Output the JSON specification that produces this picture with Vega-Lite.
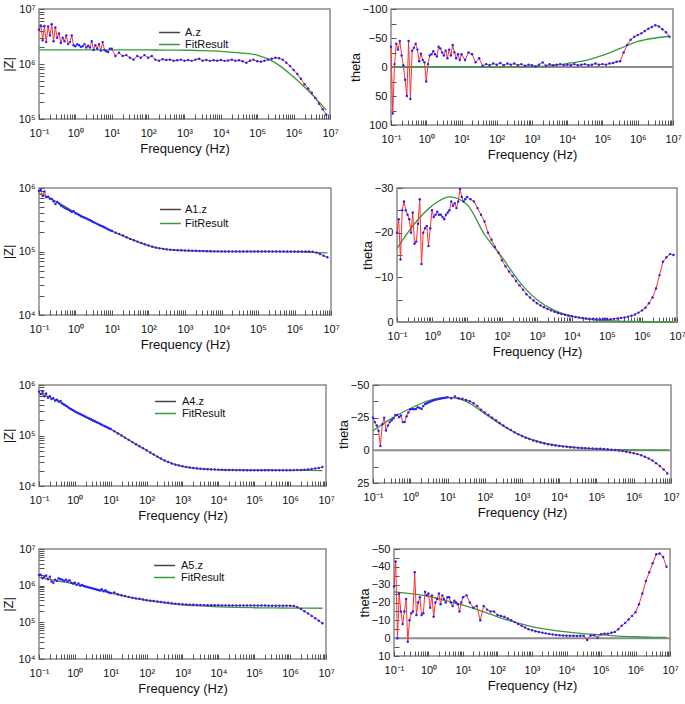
{
"$schema": "https://vega.github.io/schema/vega-lite/v6.json",
"padding": {"left": 1, "top": 2, "right": 0, "bottom": 0},
"background": "white",
"config": {
 "font": "Liberation Sans",
 "view": {"stroke": "#8a8a8a", "strokeWidth": 1.5},
 "axis": {"grid": false, "domain": false, "offset": -5, "tickSize": 5, "tickColor": "#555555", "tickWidth": 1, "labelFont": "Liberation Sans", "labelFontSize": 11, "labelColor": "#111111", "titleFont": "Liberation Sans", "titleFontSize": 13, "titleFontWeight": "normal", "titleColor": "#111111", "labelOverlap": false, "labelFlush": false, "labelBound": false},
 "axisX": {"labelPadding": 8, "titlePadding": 4},
 "axisY": {"labelPadding": 4, "titlePadding": 3},
 "legend": {"labelFont": "Liberation Sans", "labelFontSize": 11, "labelColor": "#111111"}
},
"datasets": {
"m": [
{"f":0.1,"z1":4.2e6,"t1":-35,"z2":9.0e5,"t2":-20,"z3":7.4e5,"t3":-25,"z4":1.95e6,"t4":-29},
{"f":0.112,"z1":5.0e6,"t1":80,"z2":9.3e5,"t2":-23,"z3":6.6e5,"t3":-21.6,"z4":2.0e6,"t4":-43},
{"f":0.126,"z1":2.7e6,"t1":-5,"z2":7.5e5,"t2":-14,"z3":7.4e5,"t3":-19,"z4":1.6e6,"t4":0},
{"f":0.141,"z1":4.9e6,"t1":-40,"z2":8.8e5,"t2":-25,"z3":6.0e5,"t3":-15,"z4":1.75e6,"t4":-25},
{"f":0.158,"z1":2.5e6,"t1":-30,"z2":7.2e5,"t2":-27,"z3":6.8e5,"t3":-3.3,"z4":1.9e6,"t4":-15},
{"f":0.178,"z1":4.8e6,"t1":-45,"z2":7.3e5,"t2":-25,"z3":5.6e5,"t3":-20,"z4":1.5e6,"t4":-8},
{"f":0.2,"z1":3.3e6,"t1":-20,"z2":6.8e5,"t2":-24,"z3":6.0e5,"t3":-24.9,"z4":1.75e6,"t4":-15},
{"f":0.224,"z1":5.3e6,"t1":-3,"z2":6.7e5,"t2":-23,"z3":5.3e5,"t3":-15.2,"z4":1.3e6,"t4":-22},
{"f":0.251,"z1":2.6e6,"t1":22,"z2":6.2e5,"t2":-20,"z3":5.5e5,"t3":-19,"z4":1.2e6,"t4":2},
{"f":0.282,"z1":4.6e6,"t1":50,"z2":5.6e5,"t2":-24.5,"z3":4.9e5,"t3":-21.6,"z4":1.45e6,"t4":-10},
{"f":0.316,"z1":3.0e6,"t1":-45,"z2":6.0e5,"t2":-17.5,"z3":5.1e5,"t3":-23,"z4":1.35e6,"t4":-14},
{"f":0.355,"z1":3.6e6,"t1":55,"z2":5.7e5,"t2":-18,"z3":4.7e5,"t3":-24.6,"z4":1.6e6,"t4":-15},
{"f":0.398,"z1":2.4e6,"t1":-28,"z2":5.3e5,"t2":-22,"z3":4.8e5,"t3":-27,"z4":1.5e6,"t4":-37},
{"f":0.447,"z1":3.0e6,"t1":-33,"z2":5.1e5,"t2":-27.5,"z3":4.3e5,"t3":-27,"z4":1.45e6,"t4":-13},
{"f":0.501,"z1":2.6e6,"t1":-40,"z2":4.9e5,"t2":-13,"z3":4.1e5,"t3":-25.4,"z4":1.35e6,"t4":-20},
{"f":0.562,"z1":3.3e6,"t1":-30,"z2":4.7e5,"t2":-20,"z3":3.9e5,"t3":-26.6,"z4":1.45e6,"t4":-23},
{"f":0.631,"z1":2.3e6,"t1":-10,"z2":4.6e5,"t2":-21,"z3":3.7e5,"t3":-21.6,"z4":1.3e6,"t4":-13},
{"f":0.708,"z1":2.5e6,"t1":-23,"z2":4.4e5,"t2":-21.5,"z3":3.45e5,"t3":-21.6,"z4":1.4e6,"t4":-14},
{"f":0.794,"z1":3.3e6,"t1":-12,"z2":4.2e5,"t2":-17,"z3":3.3e5,"t3":-26,"z4":1.2e6,"t4":-26},
{"f":0.891,"z1":2.2e6,"t1":-8,"z2":4.3e5,"t2":-21,"z3":3.15e5,"t3":-29,"z4":1.15e6,"t4":-24},
{"f":1,"z1":2.1e6,"t1":25,"z2":4.0e5,"t2":-25,"z3":3.0e5,"t3":-31.5,"z4":1.2e6,"t4":-25},
{"f":1.12,"z1":2.3e6,"t1":-5,"z2":3.9e5,"t2":-23.5,"z3":2.88e5,"t3":-31.7,"z4":1.05e6,"t4":-17},
{"f":1.26,"z1":2.2e6,"t1":-20,"z2":3.75e5,"t2":-24,"z3":2.77e5,"t3":-31.5,"z4":1.15e6,"t4":-24},
{"f":1.41,"z1":2.05e6,"t1":-22,"z2":3.6e5,"t2":-24.7,"z3":2.66e5,"t3":-31.7,"z4":1.0e6,"t4":-12},
{"f":1.58,"z1":2.1e6,"t1":-27,"z2":3.5e5,"t2":-24,"z3":2.55e5,"t3":-33,"z4":1.05e6,"t4":-20},
{"f":1.78,"z1":2.3e6,"t1":-22,"z2":3.4e5,"t2":-24,"z3":2.45e5,"t3":-32.5,"z4":9.8e5,"t4":-22},
{"f":2,"z1":2.0e6,"t1":-18,"z2":3.3e5,"t2":-23.5,"z3":2.36e5,"t3":-31.7,"z4":9.5e5,"t4":-25},
{"f":2.24,"z1":2.15e6,"t1":-35,"z2":3.2e5,"t2":-23,"z3":2.26e5,"t3":-34,"z4":9.2e5,"t4":-19},
{"f":2.51,"z1":2.0e6,"t1":-32,"z2":3.1e5,"t2":-24,"z3":2.17e5,"t3":-35.5,"z4":8.9e5,"t4":-24},
{"f":2.82,"z1":2.6e6,"t1":-25,"z2":3.0e5,"t2":-24.5,"z3":2.09e5,"t3":-36,"z4":8.6e5,"t4":-22},
{"f":3.16,"z1":1.8e6,"t1":-20,"z2":2.9e5,"t2":-25,"z3":2.0e5,"t3":-36.8,"z4":8.4e5,"t4":-20},
{"f":3.55,"z1":2.2e6,"t1":-28,"z2":2.8e5,"t2":-27,"z3":1.93e5,"t3":-37.3,"z4":8.1e5,"t4":-23},
{"f":3.98,"z1":1.9e6,"t1":-15,"z2":2.7e5,"t2":-26,"z3":1.85e5,"t3":-38,"z4":7.9e5,"t4":-23},
{"f":4.47,"z1":2.3e6,"t1":-30,"z2":2.62e5,"t2":-26.6,"z3":1.78e5,"t3":-38.5,"z4":7.6e5,"t4":-20},
{"f":5.01,"z1":1.75e6,"t1":-20,"z2":2.55e5,"t2":-25.5,"z3":1.71e5,"t3":-38.8,"z4":7.4e5,"t4":-18},
{"f":5.62,"z1":2.5e6,"t1":-38,"z2":2.47e5,"t2":-27,"z3":1.64e5,"t3":-39.2,"z4":8.0e5,"t4":-21},
{"f":6.31,"z1":1.8e6,"t1":-25,"z2":2.38e5,"t2":-29.8,"z3":1.57e5,"t3":-39.5,"z4":7.0e5,"t4":-20},
{"f":7.08,"z1":1.7e6,"t1":-15,"z2":2.3e5,"t2":-28,"z3":1.51e5,"t3":-39.8,"z4":7.5e5,"t4":-19},
{"f":7.94,"z1":1.65e6,"t1":-22,"z2":2.23e5,"t2":-27,"z3":1.45e5,"t3":-40,"z4":6.8e5,"t4":-15},
{"f":8.91,"z1":1.9e6,"t1":-12,"z2":2.16e5,"t2":-27.5,"z3":1.39e5,"t3":-40.3,"z4":6.5e5,"t4":-20},
{"f":10,"z1":1.9e6,"t1":-22,"z2":2.1e5,"t2":-28,"z3":1.34e5,"t3":-40.6,"z4":6.3e5,"t4":-23},
{"f":12.6,"z1":1.4e6,"t1":-12,"z2":1.98e5,"t2":-27.5,"z3":1.22e5,"t3":-39.8,"z4":6.5e5,"t4":-24},
{"f":15.8,"z1":1.6e6,"t1":-25,"z2":1.88e5,"t2":-27,"z3":1.1e5,"t3":-41.2,"z4":5.8e5,"t4":-20},
{"f":20,"z1":1.4e6,"t1":-22,"z2":1.78e5,"t2":-25.5,"z3":1.0e5,"t3":-39.8,"z4":5.5e5,"t4":-17},
{"f":25.1,"z1":1.45e6,"t1":-8,"z2":1.68e5,"t2":-24,"z3":9.0e4,"t3":-39.5,"z4":5.2e5,"t4":-18},
{"f":31.6,"z1":1.3e6,"t1":-15,"z2":1.58e5,"t2":-22.5,"z3":8.2e4,"t3":-38.5,"z4":4.9e5,"t4":-10},
{"f":39.8,"z1":1.2e6,"t1":-2,"z2":1.5e5,"t2":-20,"z3":7.4e4,"t3":-37.5,"z4":4.7e5,"t4":-18},
{"f":50.1,"z1":1.4e6,"t1":-5,"z2":1.43e5,"t2":-18.4,"z3":6.7e4,"t3":-36,"z4":4.5e5,"t4":-16},
{"f":63.1,"z1":1.3e6,"t1":-3,"z2":1.36e5,"t2":-16.8,"z3":6.1e4,"t3":-34,"z4":4.4e5,"t4":-15},
{"f":79.4,"z1":1.45e6,"t1":-6,"z2":1.3e5,"t2":-15.5,"z3":5.6e4,"t3":-31,"z4":4.2e5,"t4":-15},
{"f":100,"z1":1.3e6,"t1":-4,"z2":1.24e5,"t2":-13.8,"z3":5.1e4,"t3":-29,"z4":4.0e5,"t4":-13},
{"f":126,"z1":1.4e6,"t1":-7,"z2":1.19e5,"t2":-12.5,"z3":4.6e4,"t3":-27,"z4":3.9e5,"t4":-12.5},
{"f":158,"z1":1.2e6,"t1":-3,"z2":1.15e5,"t2":-11.3,"z3":4.2e4,"t3":-25,"z4":3.8e5,"t4":-12},
{"f":200,"z1":1.15e6,"t1":-6,"z2":1.12e5,"t2":-10.3,"z3":3.8e4,"t3":-23,"z4":3.7e5,"t4":-11},
{"f":251,"z1":1.22e6,"t1":-4,"z2":1.1e5,"t2":-9.2,"z3":3.5e4,"t3":-21,"z4":3.6e5,"t4":-10},
{"f":316,"z1":1.18e6,"t1":-6,"z2":1.08e5,"t2":-8.2,"z3":3.2e4,"t3":-19,"z4":3.5e5,"t4":-9},
{"f":398,"z1":1.2e6,"t1":-3,"z2":1.07e5,"t2":-7.2,"z3":3.0e4,"t3":-17.2,"z4":3.4e5,"t4":-8},
{"f":501,"z1":1.15e6,"t1":-5,"z2":1.06e5,"t2":-6.2,"z3":2.8e4,"t3":-15.5,"z4":3.3e5,"t4":-7},
{"f":631,"z1":1.17e6,"t1":-2,"z2":1.05e5,"t2":-5.5,"z3":2.65e4,"t3":-13.8,"z4":3.2e5,"t4":-6},
{"f":794,"z1":1.2e6,"t1":-4,"z2":1.045e5,"t2":-4.8,"z3":2.55e4,"t3":-12.3,"z4":3.15e5,"t4":-5},
{"f":1000,"z1":1.15e6,"t1":-3,"z2":1.04e5,"t2":-4.2,"z3":2.45e4,"t3":-10.9,"z4":3.1e5,"t4":-4.4},
{"f":1260,"z1":1.18e6,"t1":-1,"z2":1.035e5,"t2":-3.7,"z3":2.38e4,"t3":-9.7,"z4":3.07e5,"t4":-3.9},
{"f":1580,"z1":1.14e6,"t1":-4,"z2":1.03e5,"t2":-3.3,"z3":2.32e4,"t3":-8.6,"z4":3.04e5,"t4":-3.5},
{"f":2000,"z1":1.2e6,"t1":-8,"z2":1.025e5,"t2":-2.9,"z3":2.27e4,"t3":-7.6,"z4":3.0e5,"t4":-3.1},
{"f":2510,"z1":1.25e6,"t1":-2,"z2":1.02e5,"t2":-2.6,"z3":2.23e4,"t3":-6.7,"z4":2.98e5,"t4":-2.7},
{"f":3160,"z1":1.15e6,"t1":-5,"z2":1.015e5,"t2":-2.3,"z3":2.2e4,"t3":-6.0,"z4":2.96e5,"t4":-2.4},
{"f":3980,"z1":1.18e6,"t1":-3,"z2":1.01e5,"t2":-2.0,"z3":2.17e4,"t3":-5.3,"z4":2.95e5,"t4":-2.1},
{"f":5010,"z1":1.14e6,"t1":-4,"z2":1.01e5,"t2":-1.8,"z3":2.15e4,"t3":-4.7,"z4":2.94e5,"t4":-1.8},
{"f":6310,"z1":1.17e6,"t1":-5,"z2":1.005e5,"t2":-1.6,"z3":2.13e4,"t3":-4.1,"z4":2.93e5,"t4":-1.6},
{"f":7940,"z1":1.15e6,"t1":-3,"z2":1.005e5,"t2":-1.4,"z3":2.12e4,"t3":-3.7,"z4":2.92e5,"t4":-1.5},
{"f":1e4,"z1":1.18e6,"t1":-4,"z2":1.0e5,"t2":-1.3,"z3":2.1e4,"t3":-3.3,"z4":2.91e5,"t4":-1.4},
{"f":12600,"z1":1.14e6,"t1":-3,"z2":1.0e5,"t2":-1.1,"z3":2.09e4,"t3":-3.0,"z4":2.9e5,"t4":-1.3},
{"f":15800,"z1":1.16e6,"t1":-5,"z2":1.0e5,"t2":-1.0,"z3":2.08e4,"t3":-2.7,"z4":2.9e5,"t4":-1.3},
{"f":20000,"z1":1.2e6,"t1":-3,"z2":1.0e5,"t2":-0.9,"z3":2.07e4,"t3":-2.4,"z4":2.89e5,"t4":-1.2},
{"f":25100,"z1":1.15e6,"t1":-4,"z2":1.0e5,"t2":-0.8,"z3":2.07e4,"t3":-2.2,"z4":2.89e5,"t4":-1.3},
{"f":31600,"z1":1.17e6,"t1":-5,"z2":1.0e5,"t2":-0.7,"z3":2.06e4,"t3":-2.0,"z4":2.88e5,"t4":-1.4},
{"f":39800,"z1":1.12e6,"t1":-3,"z2":1.0e5,"t2":-0.7,"z3":2.06e4,"t3":-1.8,"z4":2.88e5,"t4":1},
{"f":50100,"z1":1.05e6,"t1":-4,"z2":1.0e5,"t2":-0.6,"z3":2.05e4,"t3":-1.6,"z4":2.88e5,"t4":-1.5},
{"f":63100,"z1":1.15e6,"t1":-6,"z2":1.0e5,"t2":-0.6,"z3":2.05e4,"t3":-1.5,"z4":2.87e5,"t4":-1.6},
{"f":79400,"z1":1.2e6,"t1":-4,"z2":1.0e5,"t2":-0.6,"z3":2.05e4,"t3":-1.4,"z4":2.87e5,"t4":-0.3},
{"f":1e5,"z1":1.12e6,"t1":-5,"z2":1.0e5,"t2":-0.6,"z3":2.05e4,"t3":-1.3,"z4":2.87e5,"t4":-2.2},
{"f":126000,"z1":1.1e6,"t1":-4,"z2":1.0e5,"t2":-0.6,"z3":2.05e4,"t3":-1.2,"z4":2.86e5,"t4":-2.5},
{"f":158000,"z1":1.15e6,"t1":-6,"z2":1.0e5,"t2":-0.7,"z3":2.05e4,"t3":-1.0,"z4":2.86e5,"t4":-2.5},
{"f":200000,"z1":1.2e6,"t1":-7,"z2":1.0e5,"t2":-0.8,"z3":2.05e4,"t3":-0.8,"z4":2.86e5,"t4":-3},
{"f":251000,"z1":1.25e6,"t1":-9,"z2":1.0e5,"t2":-0.9,"z3":2.05e4,"t3":-0.5,"z4":2.85e5,"t4":-3.5},
{"f":316000,"z1":1.3e6,"t1":-10,"z2":1.0e5,"t2":-1.0,"z3":2.05e4,"t3":-0.2,"z4":2.85e5,"t4":-5},
{"f":398000,"z1":1.27e6,"t1":-25,"z2":1.0e5,"t2":-1.2,"z3":2.05e4,"t3":0.2,"z4":2.85e5,"t4":-7},
{"f":501000,"z1":1.2e6,"t1":-38,"z2":1.0e5,"t2":-1.4,"z3":2.05e4,"t3":0.6,"z4":2.85e5,"t4":-8.5},
{"f":631000,"z1":1.05e6,"t1":-47,"z2":1.0e5,"t2":-1.7,"z3":2.05e4,"t3":1.1,"z4":2.85e5,"t4":-10.5},
{"f":794000,"z1":9.2e5,"t1":-52,"z2":1.0e5,"t2":-2.1,"z3":2.05e4,"t3":1.6,"z4":2.84e5,"t4":-12.5},
{"f":1e6,"z1":7.8e5,"t1":-55,"z2":1.0e5,"t2":-2.6,"z3":2.05e4,"t3":2.2,"z4":2.83e5,"t4":-14.5},
{"f":1.26e6,"z1":6.6e5,"t1":-58,"z2":1.0e5,"t2":-3.2,"z3":2.06e4,"t3":2.9,"z4":2.78e5,"t4":-19},
{"f":1.58e6,"z1":5.4e5,"t1":-62,"z2":1.0e5,"t2":-4.2,"z3":2.07e4,"t3":3.8,"z4":2.6e5,"t4":-25},
{"f":2e6,"z1":4.3e5,"t1":-66,"z2":1.0e5,"t2":-5.5,"z3":2.08e4,"t3":4.9,"z4":2.3e5,"t4":-32},
{"f":2.51e6,"z1":3.6e5,"t1":-69,"z2":1.0e5,"t2":-7.5,"z3":2.1e4,"t3":6.2,"z4":2.0e5,"t4":-37},
{"f":3.16e6,"z1":3.0e5,"t1":-72,"z2":9.9e4,"t2":-10.5,"z3":2.13e4,"t3":7.8,"z4":1.75e5,"t4":-42},
{"f":3.98e6,"z1":2.4e5,"t1":-70,"z2":9.6e4,"t2":-13.5,"z3":2.17e4,"t3":9.8,"z4":1.5e5,"t4":-47},
{"f":5.01e6,"z1":1.9e5,"t1":-65,"z2":9.1e4,"t2":-14.5,"z3":2.22e4,"t3":12,"z4":1.3e5,"t4":-47.5},
{"f":6.31e6,"z1":1.5e5,"t1":-60,"z2":8.6e4,"t2":-15.2,"z3":2.28e4,"t3":14.6,"z4":1.1e5,"t4":-45.5},
{"f":7.94e6,"z1":1.2e5,"t1":-52,"z2":8.1e4,"t2":-15,"z3":2.38e4,"t3":17.7,"z4":9.5e4,"t4":-40}
],
"fit": [
{"f":0.1,"z1":1.8e6,"t1":0,"z2":8.3e5,"t2":-16.5,"z3":6.8e5,"t3":-15,"z4":1.7e6,"t4":-26},
{"f":0.316,"z1":1.8e6,"t1":0,"z2":6.0e5,"t2":-22,"z3":4.9e5,"t3":-24.5,"z4":1.35e6,"t4":-25},
{"f":1,"z1":1.8e6,"t1":0,"z2":4.1e5,"t2":-26,"z3":3.0e5,"t3":-32,"z4":1.1e6,"t4":-23.5},
{"f":3.16,"z1":1.8e6,"t1":0,"z2":2.9e5,"t2":-28,"z3":1.95e5,"t3":-38,"z4":8.3e5,"t4":-21},
{"f":10,"z1":1.8e6,"t1":0,"z2":2.1e5,"t2":-26.3,"z3":1.34e5,"t3":-40.5,"z4":6.3e5,"t4":-18.5},
{"f":31.6,"z1":1.8e6,"t1":0,"z2":1.58e5,"t2":-19.6,"z3":8.2e4,"t3":-37.5,"z4":4.9e5,"t4":-15.5},
{"f":100,"z1":1.8e6,"t1":0,"z2":1.24e5,"t2":-14.5,"z3":5.1e4,"t3":-28,"z4":4.0e5,"t4":-12},
{"f":316,"z1":1.79e6,"t1":-0.2,"z2":1.08e5,"t2":-9,"z3":3.2e4,"t3":-18.5,"z4":3.4e5,"t4":-9},
{"f":1000,"z1":1.78e6,"t1":-0.5,"z2":1.03e5,"t2":-5,"z3":2.45e4,"t3":-11,"z4":3.0e5,"t4":-6.5},
{"f":3160,"z1":1.75e6,"t1":-2,"z2":1.01e5,"t2":-2.6,"z3":2.2e4,"t3":-6.3,"z4":2.8e5,"t4":-4.8},
{"f":1e4,"z1":1.7e6,"t1":-6,"z2":1.0e5,"t2":-1.3,"z3":2.1e4,"t3":-3.6,"z4":2.65e5,"t4":-3.5},
{"f":31600,"z1":1.6e6,"t1":-11,"z2":1.0e5,"t2":-0.6,"z3":2.06e4,"t3":-2,"z4":2.55e5,"t4":-2.5},
{"f":1e5,"z1":1.45e6,"t1":-20,"z2":1.0e5,"t2":-0.3,"z3":2.05e4,"t3":-1,"z4":2.5e5,"t4":-1.8},
{"f":316000,"z1":1.05e6,"t1":-32,"z2":1.0e5,"t2":-0.15,"z3":2.05e4,"t3":-0.5,"z4":2.47e5,"t4":-1.2},
{"f":1e6,"z1":5.8e5,"t1":-44,"z2":9.9e4,"t2":-0.1,"z3":2.04e4,"t3":-0.25,"z4":2.45e5,"t4":-0.8},
{"f":3.16e6,"z1":2.8e5,"t1":-50,"z2":9.7e4,"t2":0,"z3":2.03e4,"t3":-0.1,"z4":2.43e5,"t4":-0.5},
{"f":7.94e6,"z1":1.45e5,"t1":-53,"z2":9.5e4,"t2":0,"z3":2.02e4,"t3":0,"z4":2.42e5,"t4":-0.4}
]
},
"resolve": {"scale": {"stroke": "independent"}, "legend": {"stroke": "independent"}},
"spacing": 19,
"vconcat": [
{"hconcat": [
 {"width": 291, "height": 110, "layer": [
  {"data": {"name": "fit"}, "mark": {"type": "line", "strokeWidth": 1.3, "interpolate": "monotone"},
   "encoding": {"x": {"field": "f", "type": "quantitative", "scale": {"type": "log", "domain": [0.1, 1e7], "nice": false},
     "axis": {"title": "Frequency (Hz)", "labelOverlap": false, "values": [0.1,0.2,0.3,0.4,0.5,0.6,0.7,0.8,0.9,1,2,3,4,5,6,7,8,9,10,20,30,40,50,60,70,80,90,100,200,300,400,500,600,700,800,900,1e3,2e3,3e3,4e3,5e3,6e3,7e3,8e3,9e3,1e4,2e4,3e4,4e4,5e4,6e4,7e4,8e4,9e4,1e5,2e5,3e5,4e5,5e5,6e5,7e5,8e5,9e5,1e6,2e6,3e6,4e6,5e6,6e6,7e6,8e6,9e6,1e7],
      "labelExpr": "abs(log(datum.value)/LN10-round(log(datum.value)/LN10))<0.001 ? ['10⁻¹','10⁰','10¹','10²','10³','10⁴','10⁵','10⁶','10⁷'][round(log(datum.value)/LN10)+1] : ''"}},
    "y": {"field": "z1", "type": "quantitative", "scale": {"type": "log", "domain": [1e5, 1e7], "nice": false},
     "axis": {"title": "|Z|", "labelOverlap": false, "values": [1e5,2e5,3e5,4e5,5e5,6e5,7e5,8e5,9e5,1e6,2e6,3e6,4e6,5e6,6e6,7e6,8e6,9e6,1e7],
      "labelExpr": "abs(log(datum.value)/LN10-round(log(datum.value)/LN10))<0.001 ? ['10⁰','10¹','10²','10³','10⁴','10⁵','10⁶','10⁷'][round(log(datum.value)/LN10)] : ''"}},
    "stroke": {"datum": "FitResult", "type": "nominal", "scale": {"domain": ["A.z", "FitResult"], "range": ["#444444", "#3a9a3a"]},
     "legend": {"orient": "none", "legendX": 124, "legendY": 17, "title": null, "symbolType": "M-1.9,0H1.9", "symbolStrokeWidth": 1.5, "symbolSize": 121, "labelOffset": 9, "rowPadding": -2}}}},
  {"data": {"name": "m"}, "mark": {"type": "line", "color": "#ff3030", "strokeWidth": 1},
   "encoding": {"x": {"field": "f", "type": "quantitative", "scale": {"type": "log"}}, "y": {"field": "z1", "type": "quantitative", "scale": {"type": "log"}}}},
  {"data": {"name": "m"}, "mark": {"type": "circle", "color": "#2323ff", "size": 6, "opacity": 1},
   "encoding": {"x": {"field": "f", "type": "quantitative", "scale": {"type": "log"}}, "y": {"field": "z1", "type": "quantitative", "scale": {"type": "log"}}}}
 ]},
 {"width": 282, "height": 116, "resolve": {"axis": {"y": "independent"}}, "layer": [
  {"data": {"values": [{}]}, "mark": {"type": "rule", "color": "#8c8c8c", "strokeWidth": 2}, "encoding": {"y": {"datum": 0, "type": "quantitative", "axis": {"orient": "left", "values": [-75,-25,25,75], "labels": false, "title": null}}}},
  {"data": {"name": "fit"}, "mark": {"type": "line", "strokeWidth": 1.3, "interpolate": "monotone", "color": "#3a9a3a"},
   "encoding": {"x": {"field": "f", "type": "quantitative", "scale": {"type": "log", "domain": [0.1, 1e7], "nice": false},
     "axis": {"title": "Frequency (Hz)", "labelOverlap": false, "values": [0.1,0.2,0.3,0.4,0.5,0.6,0.7,0.8,0.9,1,2,3,4,5,6,7,8,9,10,20,30,40,50,60,70,80,90,100,200,300,400,500,600,700,800,900,1e3,2e3,3e3,4e3,5e3,6e3,7e3,8e3,9e3,1e4,2e4,3e4,4e4,5e4,6e4,7e4,8e4,9e4,1e5,2e5,3e5,4e5,5e5,6e5,7e5,8e5,9e5,1e6,2e6,3e6,4e6,5e6,6e6,7e6,8e6,9e6,1e7],
      "labelExpr": "abs(log(datum.value)/LN10-round(log(datum.value)/LN10))<0.001 ? ['10⁻¹','10⁰','10¹','10²','10³','10⁴','10⁵','10⁶','10⁷'][round(log(datum.value)/LN10)+1] : ''"}},
    "y": {"field": "t1", "type": "quantitative", "scale": {"domain": [-100, 100], "reverse": true, "nice": false, "zero": false},
     "axis": {"orient": "left", "title": "theta", "titlePadding": 0, "labelOverlap": false, "values": [-100,-50,0,50,100]}}}},
  {"data": {"name": "m"}, "mark": {"type": "line", "color": "#ff3030", "strokeWidth": 1},
   "encoding": {"x": {"field": "f", "type": "quantitative", "scale": {"type": "log"}}, "y": {"field": "t1", "type": "quantitative", "axis": null}}},
  {"data": {"name": "m"}, "mark": {"type": "circle", "color": "#2323ff", "size": 6, "opacity": 1},
   "encoding": {"x": {"field": "f", "type": "quantitative", "scale": {"type": "log"}}, "y": {"field": "t1", "type": "quantitative", "axis": null}}}
 ]}
], "spacing": 9},
{"hconcat": [
 {"width": 292, "height": 127, "layer": [
  {"data": {"name": "fit"}, "mark": {"type": "line", "strokeWidth": 1.3, "interpolate": "monotone"},
   "encoding": {"x": {"field": "f", "type": "quantitative", "scale": {"type": "log", "domain": [0.1, 1e7], "nice": false},
     "axis": {"title": "Frequency (Hz)", "labelOverlap": false, "values": [0.1,0.2,0.3,0.4,0.5,0.6,0.7,0.8,0.9,1,2,3,4,5,6,7,8,9,10,20,30,40,50,60,70,80,90,100,200,300,400,500,600,700,800,900,1e3,2e3,3e3,4e3,5e3,6e3,7e3,8e3,9e3,1e4,2e4,3e4,4e4,5e4,6e4,7e4,8e4,9e4,1e5,2e5,3e5,4e5,5e5,6e5,7e5,8e5,9e5,1e6,2e6,3e6,4e6,5e6,6e6,7e6,8e6,9e6,1e7],
      "labelExpr": "abs(log(datum.value)/LN10-round(log(datum.value)/LN10))<0.001 ? ['10⁻¹','10⁰','10¹','10²','10³','10⁴','10⁵','10⁶','10⁷'][round(log(datum.value)/LN10)+1] : ''"}},
    "y": {"field": "z2", "type": "quantitative", "scale": {"type": "log", "domain": [1e4, 1e6], "nice": false},
     "axis": {"title": "|Z|", "labelOverlap": false, "values": [1e4,2e4,3e4,4e4,5e4,6e4,7e4,8e4,9e4,1e5,2e5,3e5,4e5,5e5,6e5,7e5,8e5,9e5,1e6],
      "labelExpr": "abs(log(datum.value)/LN10-round(log(datum.value)/LN10))<0.001 ? ['10⁰','10¹','10²','10³','10⁴','10⁵','10⁶','10⁷'][round(log(datum.value)/LN10)] : ''"}},
    "stroke": {"datum": "FitResult", "type": "nominal", "scale": {"domain": ["A1.z", "FitResult"], "range": ["#444444", "#3a9a3a"]},
     "legend": {"orient": "none", "legendX": 125, "legendY": 15, "title": null, "symbolType": "M-1.9,0H1.9", "symbolStrokeWidth": 1.5, "symbolSize": 121, "labelOffset": 8, "rowPadding": 2}}}},
  {"data": {"name": "m"}, "mark": {"type": "line", "color": "#ff3030", "strokeWidth": 1},
   "encoding": {"x": {"field": "f", "type": "quantitative", "scale": {"type": "log"}}, "y": {"field": "z2", "type": "quantitative", "scale": {"type": "log"}}}},
  {"data": {"name": "m"}, "mark": {"type": "circle", "color": "#2323ff", "size": 6, "opacity": 1},
   "encoding": {"x": {"field": "f", "type": "quantitative", "scale": {"type": "log"}}, "y": {"field": "z2", "type": "quantitative", "scale": {"type": "log"}}}}
 ]},
 {"width": 280, "height": 134, "resolve": {"axis": {"y": "independent"}}, "layer": [
  {"data": {"values": [{}]}, "mark": {"type": "rule", "color": "#8c8c8c", "strokeWidth": 2}, "encoding": {"y": {"datum": 0, "type": "quantitative", "axis": {"orient": "left", "values": [-25,-15,-5], "labels": false, "title": null}}}},
  {"data": {"name": "fit"}, "mark": {"type": "line", "strokeWidth": 1.3, "interpolate": "monotone", "color": "#3a9a3a"},
   "encoding": {"x": {"field": "f", "type": "quantitative", "scale": {"type": "log", "domain": [0.1, 1e7], "nice": false},
     "axis": {"title": "Frequency (Hz)", "labelOverlap": false, "values": [0.1,0.2,0.3,0.4,0.5,0.6,0.7,0.8,0.9,1,2,3,4,5,6,7,8,9,10,20,30,40,50,60,70,80,90,100,200,300,400,500,600,700,800,900,1e3,2e3,3e3,4e3,5e3,6e3,7e3,8e3,9e3,1e4,2e4,3e4,4e4,5e4,6e4,7e4,8e4,9e4,1e5,2e5,3e5,4e5,5e5,6e5,7e5,8e5,9e5,1e6,2e6,3e6,4e6,5e6,6e6,7e6,8e6,9e6,1e7],
      "labelExpr": "abs(log(datum.value)/LN10-round(log(datum.value)/LN10))<0.001 ? ['10⁻¹','10⁰','10¹','10²','10³','10⁴','10⁵','10⁶','10⁷'][round(log(datum.value)/LN10)+1] : ''"}},
    "y": {"field": "t2", "type": "quantitative", "scale": {"domain": [-30, 0], "reverse": true, "nice": false, "zero": false},
     "axis": {"orient": "left", "title": "theta", "titlePadding": 0, "labelOverlap": false, "values": [-30,-20,-10,0]}}}},
  {"data": {"name": "m"}, "mark": {"type": "line", "color": "#ff3030", "strokeWidth": 1},
   "encoding": {"x": {"field": "f", "type": "quantitative", "scale": {"type": "log"}}, "y": {"field": "t2", "type": "quantitative", "axis": null}}},
  {"data": {"name": "m"}, "mark": {"type": "circle", "color": "#2323ff", "size": 6, "opacity": 1},
   "encoding": {"x": {"field": "f", "type": "quantitative", "scale": {"type": "log"}}, "y": {"field": "t2", "type": "quantitative", "axis": null}}}
 ]}
], "spacing": 20},
{"hconcat": [
 {"width": 287, "height": 101, "layer": [
  {"data": {"name": "fit"}, "mark": {"type": "line", "strokeWidth": 1.3, "interpolate": "monotone"},
   "encoding": {"x": {"field": "f", "type": "quantitative", "scale": {"type": "log", "domain": [0.1, 1e7], "nice": false},
     "axis": {"title": "Frequency (Hz)", "labelOverlap": false, "values": [0.1,0.2,0.3,0.4,0.5,0.6,0.7,0.8,0.9,1,2,3,4,5,6,7,8,9,10,20,30,40,50,60,70,80,90,100,200,300,400,500,600,700,800,900,1e3,2e3,3e3,4e3,5e3,6e3,7e3,8e3,9e3,1e4,2e4,3e4,4e4,5e4,6e4,7e4,8e4,9e4,1e5,2e5,3e5,4e5,5e5,6e5,7e5,8e5,9e5,1e6,2e6,3e6,4e6,5e6,6e6,7e6,8e6,9e6,1e7],
      "labelExpr": "abs(log(datum.value)/LN10-round(log(datum.value)/LN10))<0.001 ? ['10⁻¹','10⁰','10¹','10²','10³','10⁴','10⁵','10⁶','10⁷'][round(log(datum.value)/LN10)+1] : ''"}},
    "y": {"field": "z3", "type": "quantitative", "scale": {"type": "log", "domain": [1e4, 1e6], "nice": false},
     "axis": {"title": "|Z|", "labelOverlap": false, "values": [1e4,2e4,3e4,4e4,5e4,6e4,7e4,8e4,9e4,1e5,2e5,3e5,4e5,5e5,6e5,7e5,8e5,9e5,1e6],
      "labelExpr": "abs(log(datum.value)/LN10-round(log(datum.value)/LN10))<0.001 ? ['10⁰','10¹','10²','10³','10⁴','10⁵','10⁶','10⁷'][round(log(datum.value)/LN10)] : ''"}},
    "stroke": {"datum": "FitResult", "type": "nominal", "scale": {"domain": ["A4.z", "FitResult"], "range": ["#444444", "#3a9a3a"]},
     "legend": {"orient": "none", "legendX": 120, "legendY": 10, "title": null, "symbolType": "M-1.9,0H1.9", "symbolStrokeWidth": 1.5, "symbolSize": 121, "labelOffset": 10, "rowPadding": -1}}}},
  {"data": {"name": "m"}, "mark": {"type": "line", "color": "#ff3030", "strokeWidth": 1},
   "encoding": {"x": {"field": "f", "type": "quantitative", "scale": {"type": "log"}}, "y": {"field": "z3", "type": "quantitative", "scale": {"type": "log"}}}},
  {"data": {"name": "m"}, "mark": {"type": "circle", "color": "#2323ff", "size": 6, "opacity": 1},
   "encoding": {"x": {"field": "f", "type": "quantitative", "scale": {"type": "log"}}, "y": {"field": "z3", "type": "quantitative", "scale": {"type": "log"}}}}
 ]},
 {"width": 298, "height": 98, "resolve": {"axis": {"y": "independent"}}, "layer": [
  {"data": {"values": [{}]}, "mark": {"type": "rule", "color": "#8c8c8c", "strokeWidth": 2}, "encoding": {"y": {"datum": 0, "type": "quantitative", "axis": {"orient": "left", "values": [-37.5,-12.5,12.5], "labels": false, "title": null}}}},
  {"data": {"name": "fit"}, "mark": {"type": "line", "strokeWidth": 1.3, "interpolate": "monotone", "color": "#3a9a3a"},
   "encoding": {"x": {"field": "f", "type": "quantitative", "scale": {"type": "log", "domain": [0.1, 1e7], "nice": false},
     "axis": {"title": "Frequency (Hz)", "labelOverlap": false, "values": [0.1,0.2,0.3,0.4,0.5,0.6,0.7,0.8,0.9,1,2,3,4,5,6,7,8,9,10,20,30,40,50,60,70,80,90,100,200,300,400,500,600,700,800,900,1e3,2e3,3e3,4e3,5e3,6e3,7e3,8e3,9e3,1e4,2e4,3e4,4e4,5e4,6e4,7e4,8e4,9e4,1e5,2e5,3e5,4e5,5e5,6e5,7e5,8e5,9e5,1e6,2e6,3e6,4e6,5e6,6e6,7e6,8e6,9e6,1e7],
      "labelExpr": "abs(log(datum.value)/LN10-round(log(datum.value)/LN10))<0.001 ? ['10⁻¹','10⁰','10¹','10²','10³','10⁴','10⁵','10⁶','10⁷'][round(log(datum.value)/LN10)+1] : ''"}},
    "y": {"field": "t3", "type": "quantitative", "scale": {"domain": [-50, 25], "reverse": true, "nice": false, "zero": false},
     "axis": {"orient": "left", "title": "theta", "titlePadding": 0, "labelOverlap": false, "values": [-50,-25,0,25]}}}},
  {"data": {"name": "m"}, "mark": {"type": "line", "color": "#ff3030", "strokeWidth": 1},
   "encoding": {"x": {"field": "f", "type": "quantitative", "scale": {"type": "log"}}, "y": {"field": "t3", "type": "quantitative", "axis": null}}},
  {"data": {"name": "m"}, "mark": {"type": "circle", "color": "#2323ff", "size": 6, "opacity": 1},
   "encoding": {"x": {"field": "f", "type": "quantitative", "scale": {"type": "log"}}, "y": {"field": "t3", "type": "quantitative", "axis": null}}}
 ]}
], "spacing": 1},
{"hconcat": [
 {"width": 287, "height": 110, "layer": [
  {"data": {"name": "fit"}, "mark": {"type": "line", "strokeWidth": 1.3, "interpolate": "monotone"},
   "encoding": {"x": {"field": "f", "type": "quantitative", "scale": {"type": "log", "domain": [0.1, 1e7], "nice": false},
     "axis": {"title": "Frequency (Hz)", "labelOverlap": false, "values": [0.1,0.2,0.3,0.4,0.5,0.6,0.7,0.8,0.9,1,2,3,4,5,6,7,8,9,10,20,30,40,50,60,70,80,90,100,200,300,400,500,600,700,800,900,1e3,2e3,3e3,4e3,5e3,6e3,7e3,8e3,9e3,1e4,2e4,3e4,4e4,5e4,6e4,7e4,8e4,9e4,1e5,2e5,3e5,4e5,5e5,6e5,7e5,8e5,9e5,1e6,2e6,3e6,4e6,5e6,6e6,7e6,8e6,9e6,1e7],
      "labelExpr": "abs(log(datum.value)/LN10-round(log(datum.value)/LN10))<0.001 ? ['10⁻¹','10⁰','10¹','10²','10³','10⁴','10⁵','10⁶','10⁷'][round(log(datum.value)/LN10)+1] : ''"}},
    "y": {"field": "z4", "type": "quantitative", "scale": {"type": "log", "domain": [1e4, 1e7], "nice": false},
     "axis": {"title": "|Z|", "labelOverlap": false, "values": [1e4,2e4,3e4,4e4,5e4,6e4,7e4,8e4,9e4,1e5,2e5,3e5,4e5,5e5,6e5,7e5,8e5,9e5,1e6,2e6,3e6,4e6,5e6,6e6,7e6,8e6,9e6,1e7],
      "labelExpr": "abs(log(datum.value)/LN10-round(log(datum.value)/LN10))<0.001 ? ['10⁰','10¹','10²','10³','10⁴','10⁵','10⁶','10⁷'][round(log(datum.value)/LN10)] : ''"}},
    "stroke": {"datum": "FitResult", "type": "nominal", "scale": {"domain": ["A5.z", "FitResult"], "range": ["#444444", "#3a9a3a"]},
     "legend": {"orient": "none", "legendX": 119, "legendY": 10, "title": null, "symbolType": "M-1.9,0H1.9", "symbolStrokeWidth": 1.5, "symbolSize": 121, "labelOffset": 10, "rowPadding": -1}}}},
  {"data": {"name": "m"}, "mark": {"type": "line", "color": "#ff3030", "strokeWidth": 1},
   "encoding": {"x": {"field": "f", "type": "quantitative", "scale": {"type": "log"}}, "y": {"field": "z4", "type": "quantitative", "scale": {"type": "log"}}}},
  {"data": {"name": "m"}, "mark": {"type": "circle", "color": "#2323ff", "size": 6, "opacity": 1},
   "encoding": {"x": {"field": "f", "type": "quantitative", "scale": {"type": "log"}}, "y": {"field": "z4", "type": "quantitative", "scale": {"type": "log"}}}}
 ]},
 {"width": 276, "height": 107, "resolve": {"axis": {"y": "independent"}}, "layer": [
  {"data": {"values": [{}]}, "mark": {"type": "rule", "color": "#8c8c8c", "strokeWidth": 2}, "encoding": {"y": {"datum": 0, "type": "quantitative", "axis": {"orient": "left", "values": [-45,-35,-25,-15,-5,5], "labels": false, "title": null}}}},
  {"data": {"name": "fit"}, "mark": {"type": "line", "strokeWidth": 1.3, "interpolate": "monotone", "color": "#3a9a3a"},
   "encoding": {"x": {"field": "f", "type": "quantitative", "scale": {"type": "log", "domain": [0.1, 1e7], "nice": false},
     "axis": {"title": "Frequency (Hz)", "labelOverlap": false, "values": [0.1,0.2,0.3,0.4,0.5,0.6,0.7,0.8,0.9,1,2,3,4,5,6,7,8,9,10,20,30,40,50,60,70,80,90,100,200,300,400,500,600,700,800,900,1e3,2e3,3e3,4e3,5e3,6e3,7e3,8e3,9e3,1e4,2e4,3e4,4e4,5e4,6e4,7e4,8e4,9e4,1e5,2e5,3e5,4e5,5e5,6e5,7e5,8e5,9e5,1e6,2e6,3e6,4e6,5e6,6e6,7e6,8e6,9e6,1e7],
      "labelExpr": "abs(log(datum.value)/LN10-round(log(datum.value)/LN10))<0.001 ? ['10⁻¹','10⁰','10¹','10²','10³','10⁴','10⁵','10⁶','10⁷'][round(log(datum.value)/LN10)+1] : ''"}},
    "y": {"field": "t4", "type": "quantitative", "scale": {"domain": [-50, 10], "reverse": true, "nice": false, "zero": false},
     "axis": {"orient": "left", "title": "theta", "titlePadding": 0, "labelOverlap": false, "values": [-50,-40,-30,-20,-10,0,10]}}}},
  {"data": {"name": "m"}, "mark": {"type": "line", "color": "#ff3030", "strokeWidth": 1},
   "encoding": {"x": {"field": "f", "type": "quantitative", "scale": {"type": "log"}}, "y": {"field": "t4", "type": "quantitative", "axis": null}}},
  {"data": {"name": "m"}, "mark": {"type": "circle", "color": "#2323ff", "size": 6, "opacity": 1},
   "encoding": {"x": {"field": "f", "type": "quantitative", "scale": {"type": "log"}}, "y": {"field": "t4", "type": "quantitative", "axis": null}}}
 ]}
], "spacing": 22}
]
}
